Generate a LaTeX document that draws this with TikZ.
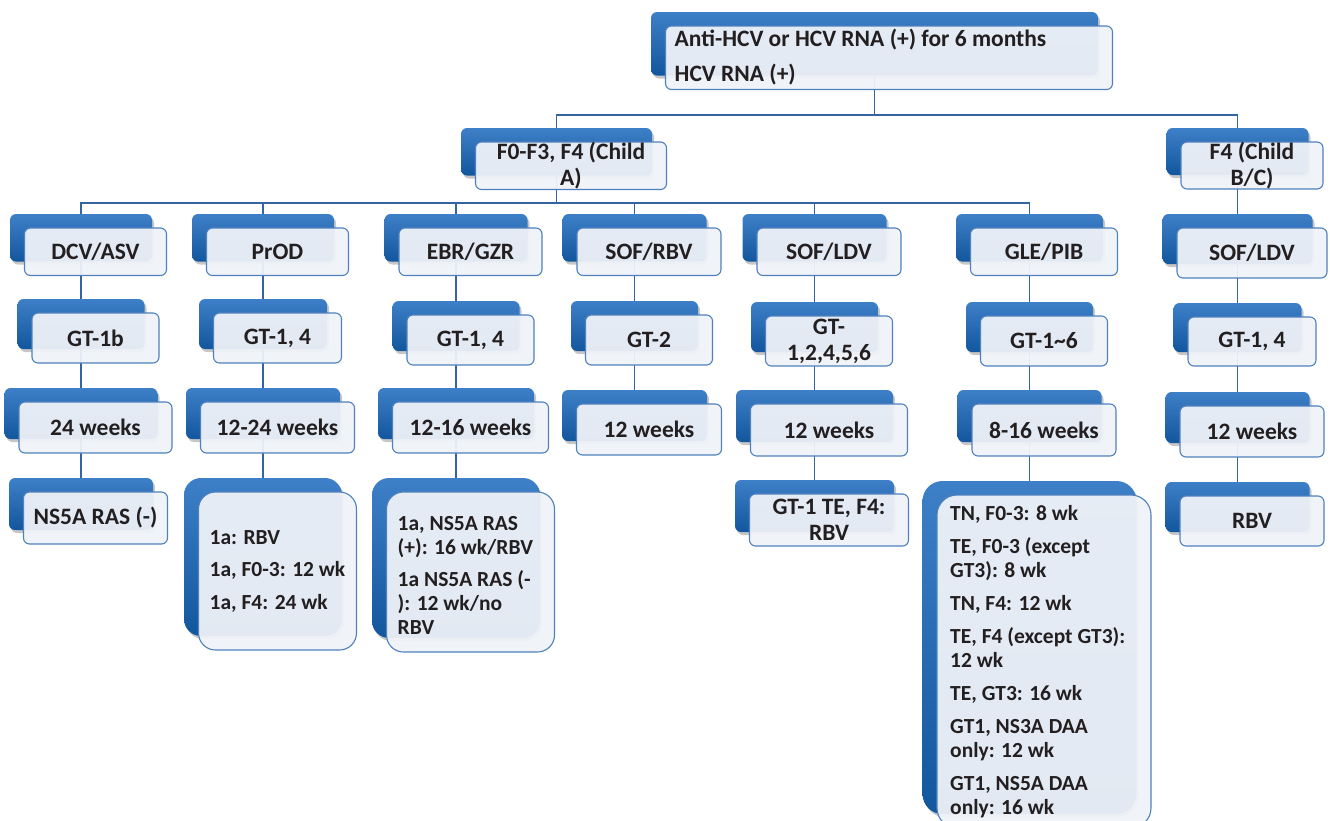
\documentclass[tikz,border=0pt]{standalone}
\usepackage{fontspec}
\setmainfont{Carlito}
\usetikzlibrary{shadows}
\pgfdeclarelayer{paper}
\pgfdeclarelayer{bg}
\pgfsetlayers{paper,bg,main}
\definecolor{bluetop}{RGB}{62,128,200}
\definecolor{bluebot}{RGB}{18,86,158}
\definecolor{frontfill}{RGB}{240,243,248}
\definecolor{frontline}{RGB}{79,129,189}
\definecolor{connc}{RGB}{52,100,164}
\definecolor{txt}{RGB}{35,31,32}
\tikzset{
 backbox/.style={draw=none, top color=bluetop, bottom color=bluebot, inner sep=0pt, outer sep=0pt,
   drop shadow={shadow xshift=2pt, shadow yshift=-3pt, opacity=0.22, fill=black}},
 frontbox/.style={draw=frontline, line width=1.1pt, fill=frontfill, fill opacity=0.94, inner sep=0pt, outer sep=0pt},
 conn/.style={draw=connc, line width=1.7pt},
 lbl/.style={font=\bfseries\fontsize{23.5}{26}\selectfont, text=txt, align=center, inner sep=0pt},
 lst/.style={font=\bfseries\fontsize{21.5}{24}\selectfont, text=txt, align=left, inner sep=0pt, anchor=west},
}
\newcommand\twobox[6]{%
 \node[backbox, rounded corners=#6pt, minimum width=#4pt, minimum height=#5pt, anchor=north] (#1b) at (#2,#3) {};
 \node[frontbox, rounded corners=#6pt, minimum width=#4pt, minimum height=#5pt, anchor=north west] (#1) at ([xshift=14.5pt,yshift=-14pt]#1b.north west) {};
}
\begin{document}
\begin{tikzpicture}[x=1pt,y=-1pt]
\useasboundingbox (0,0) rectangle (1330,820);
\begin{pgfonlayer}{paper}
\fill[white] (0,0) rectangle (1330,820);
\end{pgfonlayer}
\clip (0,0) rectangle (1330,820);

% level 0 and 1
\twobox{top}{874.5}{12}{447}{63.5}{6}
\twobox{fa}{556.5}{128}{191}{47.5}{6}
\twobox{fb}{1237.5}{128}{142}{47}{6}

% level 2
\twobox{dcv}{81}{214}{142}{47.5}{6}
\twobox{prod}{263}{214}{142}{47.5}{6}
\twobox{ebr}{456}{214}{143}{47.5}{6}
\twobox{sofr}{634.5}{214}{144}{47.5}{6}
\twobox{sofl}{814.5}{214}{144}{47.5}{6}
\twobox{gle}{1029.5}{214}{147}{47.5}{6}
\twobox{rsof}{1237.5}{214}{150}{50}{6}

% level 3
\twobox{gta}{81}{299}{127}{50}{6}
\twobox{gtb}{263}{299}{128}{50}{6}
\twobox{gtc}{456}{301}{127}{50}{6}
\twobox{gtd}{634.5}{301}{127}{50}{6}
\twobox{gte}{814.5}{302}{127}{50}{6}
\twobox{gtf}{1029.5}{302}{127}{50}{6}
\twobox{gtr}{1237.5}{303}{128}{49}{6}

% level 4
\twobox{wa}{81}{388}{153}{51}{6}
\twobox{wb}{263}{388}{154}{51}{6}
\twobox{wc}{456}{388}{156}{51}{6}
\twobox{wd}{634.5}{390}{145}{51}{6}
\twobox{we}{814.5}{390}{157}{52}{6}
\twobox{wf}{1029.5}{390}{144}{52}{6}
\twobox{wr}{1237.5}{392}{144}{51}{6}

% level 5
\twobox{na}{81}{478}{144}{52}{6}
\twobox{nb}{263}{478}{158}{158}{17}
\twobox{nc}{456}{478}{168}{160}{17}
\twobox{ne}{814.5}{480}{159}{52}{6}
\twobox{nf}{1029.5}{481}{214}{333}{20}
\twobox{nr}{1237.5}{482}{144}{50}{6}

% texts
\node[lbl, align=left, anchor=west] (topt) at ([xshift=9pt,yshift=1pt]top.west) {Anti-HCV or HCV RNA (+) for 6 months\\[9pt]HCV RNA (+)};
\node[lbl] (fat) at (fa) {F0-F3, F4 (Child\\A)};
\node[lbl] (fbt) at (fb) {F4 (Child\\B/C)};

\node[lbl] (dcvt) at (dcv) {DCV/ASV};
\node[lbl] (prodt) at (prod) {PrOD};
\node[lbl] (ebrt) at (ebr) {EBR/GZR};
\node[lbl] (sofrt) at (sofr) {SOF/RBV};
\node[lbl] (soflt) at (sofl) {SOF/LDV};
\node[lbl] (glet) at (gle) {GLE/PIB};
\node[lbl] (rsoft) at (rsof) {SOF/LDV};

\node[lbl] (gtat) at (gta) {GT-1b};
\node[lbl] (gtbt) at (gtb) {GT-1, 4};
\node[lbl] (gtct) at (gtc) {GT-1, 4};
\node[lbl] (gtdt) at (gtd) {GT-2};
\node[lbl] (gtet) at (gte) {GT-\\1,2,4,5,6};
\node[lbl] (gtft) at (gtf) {GT-1\textasciitilde6};
\node[lbl] (gtrt) at (gtr) {GT-1, 4};

\node[lbl] (wat) at (wa) {24 weeks};
\node[lbl] (wbt) at (wb) {12-24 weeks};
\node[lbl] (wct) at (wc) {12-16 weeks};
\node[lbl] (wdt) at (wd) {12 weeks};
\node[lbl] (wet) at (we) {12 weeks};
\node[lbl] (wft) at (wf) {8-16 weeks};
\node[lbl] (wrt) at (wr) {12 weeks};

\node[lbl] (nat) at (na) {NS5A RAS (-)};
\node[lst] (nbt) at ([xshift=11pt]nb.west) {1a: RBV\\[8.5pt]1a, F0-3: 12 wk\\[8.5pt]1a, F4: 24 wk};
\node[lst] (nct) at ([xshift=11pt,yshift=-3pt]nc.west) {1a, NS5A RAS\\(+): 16 wk/RBV\\[8pt]1a NS5A RAS (-\\): 12 wk/no\\RBV};
\node[lbl] (net) at (ne) {GT-1 TE, F4:\\RBV};
\node[lst] (nft) at ([xshift=13pt]nf.west) {TN, F0-3: 8 wk\\[9pt]TE, F0-3 (except\\GT3): 8 wk\\[9pt]TN, F4: 12 wk\\[9pt]TE, F4 (except GT3):\\12 wk\\[9pt]TE, GT3: 16 wk\\[9pt]GT1, NS3A DAA\\only: 12 wk\\[9pt]GT1, NS5A DAA\\only: 16 wk};
\node[lbl] (nrt) at (nr) {RBV};

\begin{pgfonlayer}{bg}
\coordinate (j1) at (874.5,115);
\coordinate (j2) at (556.5,203);
\draw[conn] (topb.center) -- (j1);
\draw[conn] (fab.center) |- (j1) -| (fbb.center);
\draw[conn] (fab.center) -- (j2);
\foreach \c in {dcvb,prodb,ebrb,sofrb,soflb,gleb}{\draw[conn] (j2) -| (\c.center);}
\draw[conn] (dcvb.center) -- (dcvb.center |- nab.center);
\draw[conn] (prodb.center) -- (prodb.center |- nbb.center);
\draw[conn] (ebrb.center) -- (ebrb.center |- ncb.center);
\draw[conn] (sofrb.center) -- (sofrb.center |- wdb.center);
\draw[conn] (soflb.center) -- (soflb.center |- neb.center);
\draw[conn] (gleb.center) -- (gleb.center |- nfb.center);
\draw[conn] (fbb.center) -- (fbb.center |- nrb.center);
\end{pgfonlayer}
\end{tikzpicture}
\end{document}
